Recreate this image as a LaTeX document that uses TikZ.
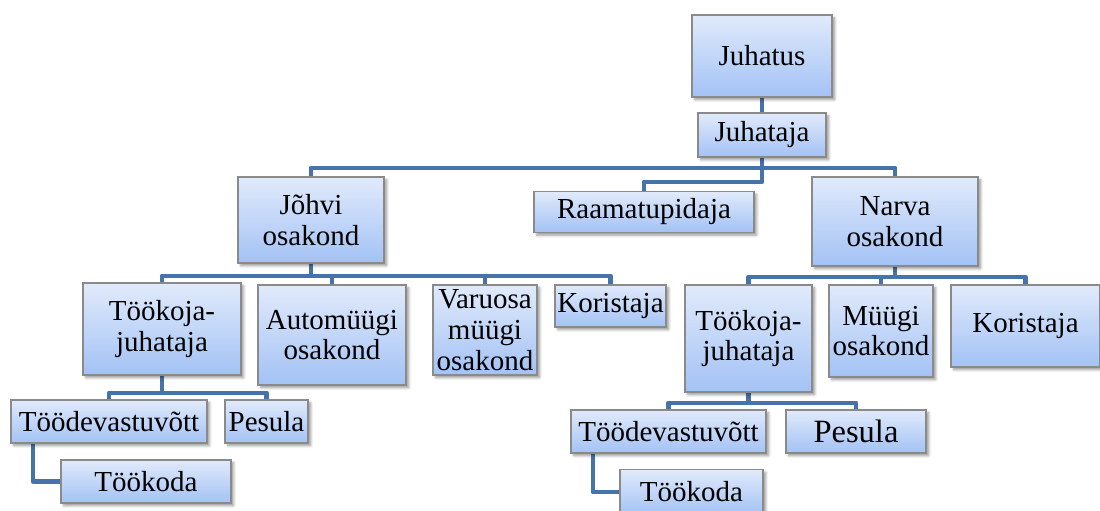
\documentclass[tikz,border=0pt]{standalone}
\usepackage{fontspec}
\setmainfont{Liberation Serif}
\usepackage{tikz}
\usetikzlibrary{shadows.blur}
\usetikzlibrary{backgrounds}

\definecolor{boxtop}{RGB}{225,234,251}
\definecolor{boxbottom}{RGB}{163,194,245}
\definecolor{boxline}{RGB}{138,138,138}
\definecolor{linkblue}{RGB}{70,116,170}

\begin{document}
\begin{tikzpicture}[x=0.02cm, y=-0.02cm,
    orgbox/.style={draw=boxline, line width=0.8pt, top color=boxtop, bottom color=boxbottom,
      inner sep=0pt, align=center, font=\fontsize{16.5}{17.5}\selectfont,
      blur shadow={shadow xshift=1.5pt, shadow yshift=-1.5pt, shadow blur radius=1.5pt, shadow opacity=40}},
    branch/.style={draw=linkblue, line width=2.8pt, line join=round}]
  \clip (0,0) rectangle (1100,511);
  \node[orgbox, minimum width=2.8cm, minimum height=1.64cm] (juhatus) at (762,56) {Juhatus};
  \node[orgbox, minimum width=2.56cm, minimum height=0.88cm] (juhataja) at (762,135) {Juhataja};
  \node[orgbox, minimum width=4.4cm, minimum height=0.82cm] (raam) at (644,212) {Raamatupidaja};
  \node[orgbox, minimum width=2.92cm, minimum height=1.72cm] (jhv) at (311,220) {Jõhvi\\osakond};
  \node[orgbox, minimum width=3.32cm, minimum height=1.78cm] (nrv) at (895,221.5) {Narva\\osakond};
  \node[orgbox, minimum width=3.16cm, minimum height=1.84cm] (tkj1) at (162,329) {Töökoja-\\juhataja};
  \node[orgbox, minimum width=2.96cm, minimum height=2.0cm] (aut) at (332,335) {Automüügi\\osakond};
  \node[orgbox, minimum width=2.08cm, minimum height=1.8cm] (var) at (485,330) {Varuosa\\müügi\\osakond};
  \node[orgbox, minimum width=2.22cm, minimum height=0.84cm] (kor1) at (610.5,306) {Koristaja};
  \node[orgbox, minimum width=2.54cm, minimum height=2.14cm] (tkj2) at (748.5,338.5) {Töökoja-\\juhataja};
  \node[orgbox, minimum width=2.08cm, minimum height=1.84cm] (myy) at (881,331) {Müügi\\osakond};
  \node[orgbox, minimum width=2.98cm, minimum height=1.64cm] (kor2) at (1025.5,326) {Koristaja};
  \node[orgbox, minimum width=3.92cm, minimum height=0.86cm] (tdv1) at (109,421.5) {Töödevastuvõtt};
  \node[orgbox, minimum width=1.66cm, minimum height=0.86cm] (pes1) at (266.5,421.5) {Pesula};
  \node[orgbox, minimum width=3.4cm, minimum height=0.86cm] (tk1) at (146,481.5) {Töökoda};
  \node[orgbox, minimum width=3.9cm, minimum height=0.86cm] (tdv2) at (668.5,431.5) {Töödevastuvõtt};
  \node[orgbox, minimum width=2.8cm, minimum height=0.86cm, font=\fontsize{18.5}{19.5}\selectfont] (pes2) at (856,431.5) {Pesula};
  \node[orgbox, minimum width=2.86cm, minimum height=0.9cm] (tk2) at (691.5,492) {Töökoda};
  \coordinate (bar0) at (0,168);
  \coordinate (bar1) at (0,182);
  \coordinate (bar2) at (0,276);
  \coordinate (bar3) at (0,277);
  \coordinate (bar4) at (0,393);
  \coordinate (bar5) at (0,403);
  \coordinate (elb1) at (33,0);
  \coordinate (elb2) at (593,0);
  \begin{pgfonlayer}{background}
    \draw[branch] (juhatus.south) -- (juhataja.north);
    \foreach \c in {jhv,nrv}
      \draw[branch] (juhataja.south) -- (juhataja.south |- bar0) -| (\c.north);
    \draw[branch] (juhataja.south) -- (juhataja.south |- bar1) -| (raam.north);
    \foreach \c in {tkj1,aut,var,kor1}
      \draw[branch] (jhv.south) -- (jhv.south |- bar2) -| (\c.north);
    \foreach \c in {tkj2,myy,kor2}
      \draw[branch] (nrv.south) -- (nrv.south |- bar3) -| (\c.north);
    \foreach \c in {tdv1,pes1}
      \draw[branch] (tkj1.south) -- (tkj1.south |- bar4) -| (\c.north);
    \foreach \c in {tdv2,pes2}
      \draw[branch] (tkj2.south) -- (tkj2.south |- bar5) -| (\c.north);
    \draw[branch] (tdv1.south -| elb1) |- (tk1.west);
    \draw[branch] (tdv2.south -| elb2) |- (tk2.west);
  \end{pgfonlayer}
\end{tikzpicture}
\end{document}
